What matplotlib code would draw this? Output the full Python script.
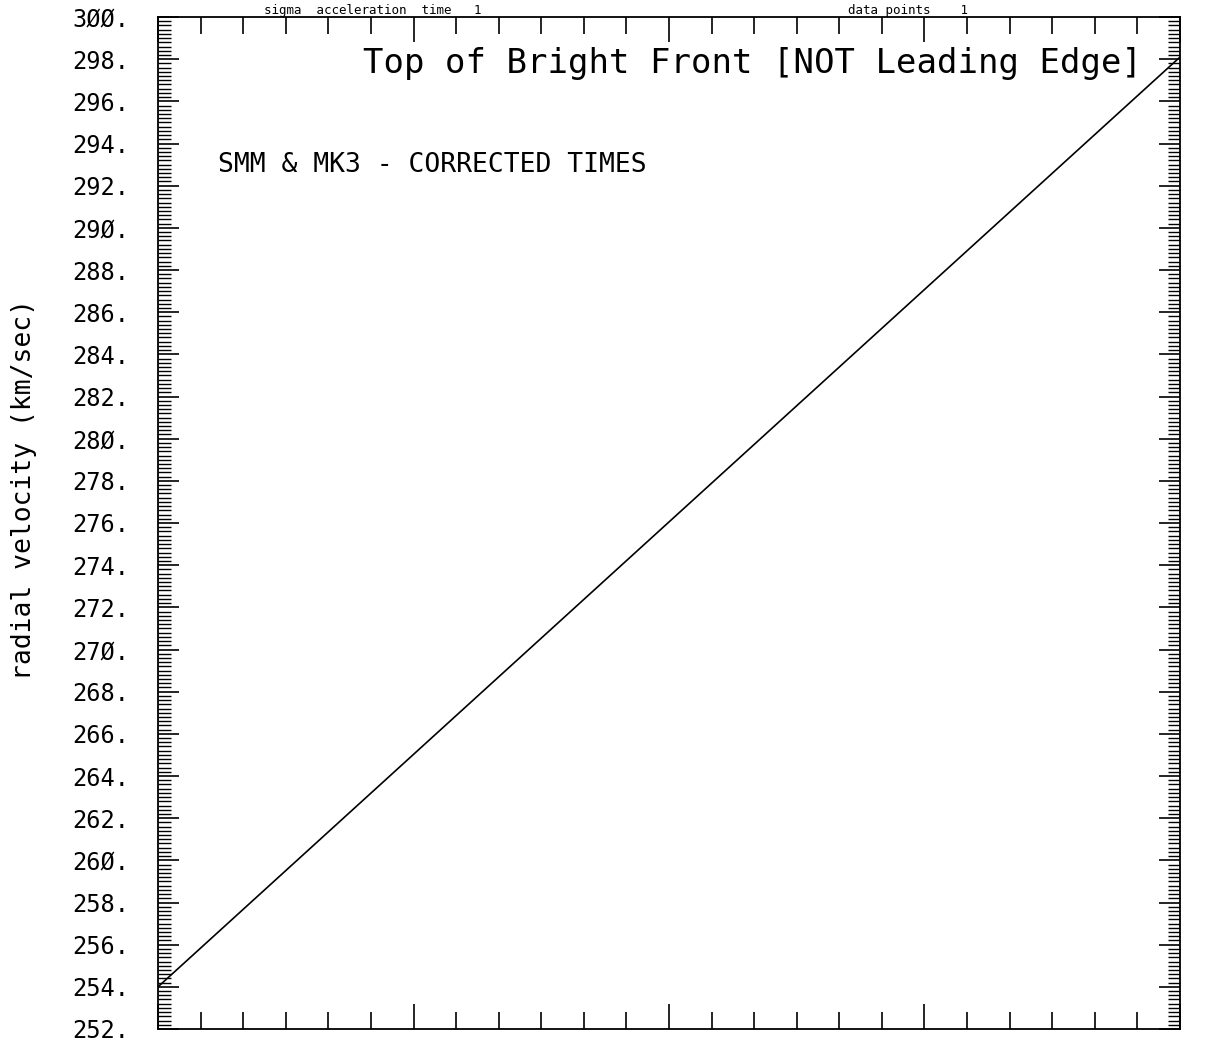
import matplotlib
matplotlib.use("Agg")
import matplotlib.pyplot as plt
from matplotlib.ticker import MultipleLocator, FixedLocator

# fitted radial velocity of the bright front (km/sec) at the two ends of the time range
times = [0.0, 24.0]
velocity = [254.0, 298.1]

y_ticks = list(range(252, 301, 2))
y_labels = [f"{v}.".replace("0", "Ø") for v in y_ticks]

mono = "DejaVu Sans Mono"

fig = plt.figure(figsize=(12.29, 10.49), dpi=100)
ax = fig.add_axes([158 / 1229, 1 - 1029 / 1049, (1180 - 158) / 1229, (1029 - 17) / 1049])

ax.plot(times, velocity, color="black", lw=1.2)

ax.set_xlim(0, 24)
ax.set_ylim(252, 300)

ax.xaxis.set_major_locator(MultipleLocator(6))
ax.xaxis.set_minor_locator(MultipleLocator(1))
ax.set_xticklabels([])
ax.yaxis.set_major_locator(FixedLocator(y_ticks))
ax.yaxis.set_minor_locator(MultipleLocator(0.2))
ax.set_yticklabels(y_labels, family=mono, fontsize=17)

ax.tick_params(axis="x", which="major", direction="in", length=18, width=1.2, top=True, bottom=True)
ax.tick_params(axis="x", which="minor", direction="in", length=12, width=1.2, top=True, bottom=True)
ax.tick_params(axis="y", which="major", direction="in", length=15, width=1.2, left=True, right=True, pad=62)
ax.tick_params(axis="y", which="minor", direction="in", length=9, width=1.0, left=True, right=True)
for s in ax.spines.values():
    s.set_linewidth(1.3)

for lab in ax.get_yticklabels():
    lab.set_horizontalalignment("left")

ax.set_ylabel("radial velocity (km/sec)", family=mono, fontsize=19)
ax.yaxis.set_label_coords(-0.131, 0.533)
ax.yaxis.label.set_verticalalignment("center")

ax.text(0.963, 0.954, "Top of Bright Front [NOT Leading Edge]", transform=ax.transAxes,
        family=mono, fontsize=24.5, ha="right", va="center")
ax.text(0.059, 0.854, "SMM & MK3 - CORRECTED TIMES", transform=ax.transAxes,
        family=mono, fontsize=19, ha="left", va="center")

# header line along the top edge
fig.text(0.215, 1 - 4 / 1049, "sigma  acceleration  time   1", family=mono, fontsize=9,
         ha="left", va="top")
fig.text(0.69, 1 - 4 / 1049, "data points    1", family=mono, fontsize=9,
         ha="left", va="top")

fig.savefig("out.png", dpi=100)
